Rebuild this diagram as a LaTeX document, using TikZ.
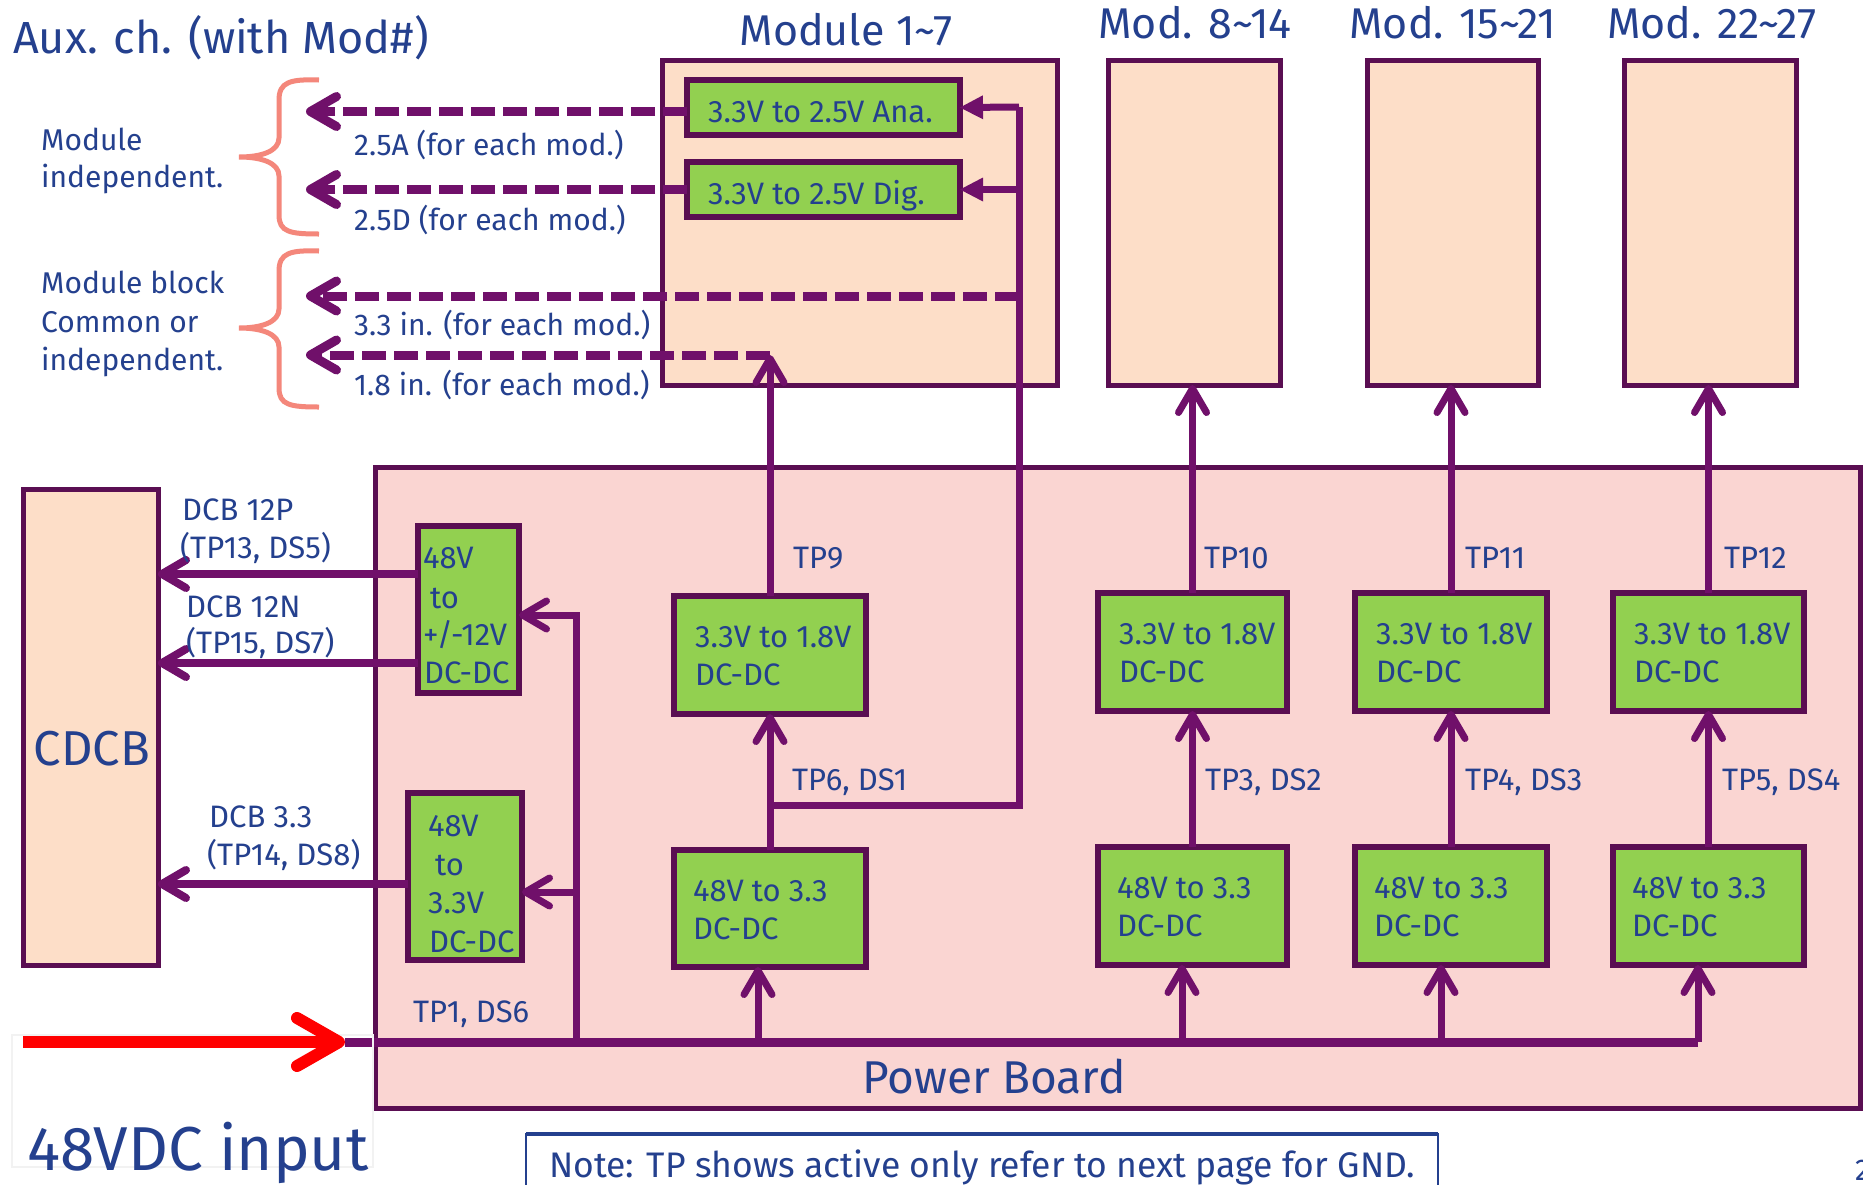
\documentclass[tikz,border=0pt]{standalone}
\usepackage{fontspec}
\setmainfont{Fira Sans}
\usetikzlibrary{arrows.meta,fit}
\definecolor{bdr}{RGB}{90,14,82}
\definecolor{lin}{RGB}{112,16,106}
\definecolor{grn}{HTML}{92D050}
\definecolor{peach}{RGB}{253,222,200}
\definecolor{pinkbg}{RGB}{250,213,210}
\definecolor{tblue}{RGB}{36,64,142}
\definecolor{salm}{RGB}{244,135,123}
\newcommand\fsz[1]{\fontsize{#1}{#1}\selectfont}
\begin{document}
\begin{tikzpicture}[x=1pt,y=-1pt,
  txt/.style={text=tblue, inner sep=0pt, anchor=base west},
  ctxt/.style={text=tblue, inner sep=0pt, anchor=base},
  gbox/.style={draw=bdr, fill=grn, line width=6pt, inner sep=0pt, outer sep=0pt},
  mbox/.style={draw=bdr, fill=peach, line width=5pt, inner sep=0pt, outer sep=0pt},
  wire/.style={draw=lin, line width=7pt},
  arr/.style={wire, -{Straight Barb[length=24pt,width=28pt,round]}},
  tri/.style={wire, -{Triangle[length=23pt,width=24pt,line width=0pt]}},
  darr/.style={draw=lin, line width=9pt, dash pattern=on 24pt off 8pt, -{Straight Barb[length=26pt,width=30pt,round]}},
  brace/.style={draw=salm, line width=5pt},
  fb/.style={font=\fsz{31}}, fn/.style={font=\fsz{30}}]
\useasboundingbox (0,0) rectangle (1863,1184);
\fill[white] (0,0) rectangle (1863,1184);

% ---------- boards ----------
\node[fit={(375,467) (1860,1108)}, draw=bdr, fill=pinkbg, line width=5pt, inner sep=0pt, outer sep=0pt] (pb) {};
\node[mbox, fit={(662,60) (1057,385)}] (m1) {};
\node[mbox, fit={(1108,60) (1280,385)}] (m2) {};
\node[mbox, fit={(1367,60) (1538,385)}] (m3) {};
\node[mbox, fit={(1624,60) (1796,385)}] (m4) {};
\node[mbox, fit={(23,489) (158,965)}] (cdcb) {};

% ---------- titles ----------
\node[txt, font=\fsz{45}] (title) at (13,53) {Aux. ch. (with Mod\#)};
\node[ctxt, font=\fsz{43}] (lm1) at (846,45) {Module 1\textasciitilde 7};
\node[ctxt, font=\fsz{43}] (lm2) at (1195,38) {Mod. 8\textasciitilde 14};
\node[ctxt, font=\fsz{43}] (lm3) at (1453,38) {Mod. 15\textasciitilde 21};
\node[ctxt, font=\fsz{43}] (lm4) at (1712,38) {Mod. 22\textasciitilde 27};
\node[ctxt, font=\fsz{49}] (lcd) at (92,765) {CDCB};
\node[ctxt, font=\fsz{46}] (lpb) at (994,1093) {Power Board};

% ---------- braces and left notes ----------
\draw[brace] (319,80) .. controls (290,79) and (279,82) .. (279,100) -- (279,138)
  .. controls (279,151) and (262,157) .. (239,157) .. controls (262,157) and (279,163) .. (279,176)
  -- (279,215) .. controls (279,232) and (290,234) .. (319,234);
\draw[brace] (319,251) .. controls (290,250) and (279,253) .. (279,271) -- (279,309)
  .. controls (279,322) and (262,328) .. (239,328) .. controls (262,328) and (279,334) .. (279,347)
  -- (279,388) .. controls (279,405) and (290,407) .. (319,407);
\node[txt, fn] (n1) at (41,150) {Module};
\node[txt, fn] (n2) at (41,187) {independent.};
\node[txt, fn] (n3) at (41,293) {Module block};
\node[txt, fn] (n4) at (41,332) {Common or};
\node[txt, fn] (n5) at (41,370) {independent.};

% ---------- green boxes ----------
\node[gbox, fit={(687,80) (960,135)}] (ana) {};
\node[gbox, fit={(687,162) (960,217)}] (dig) {};
\node[txt, fb] at (708,122) {3.3V to 2.5V Ana.};
\node[txt, fb] at (708,204) {3.3V to 2.5V Dig.};

\node[gbox, fit={(418,526) (519,693)}] (pm) {};
\node[gbox, fit={(408,793) (522,960)}] (p3) {};
\node[txt, fb] at (423,568) {48V};
\node[txt, fb] at (430,608) {to};
\node[txt, fb] at (423,645) {+/-12V};
\node[txt, fb] at (424,683) {DC-DC};
\node[txt, fb] at (428,836) {48V};
\node[txt, fb] at (435,875) {to};
\node[txt, fb] at (428,913) {3.3V};
\node[txt, fb] at (429,952) {DC-DC};

\node[gbox, fit={(674,596) (866,714)}] (a1) {};
\node[gbox, fit={(674,850) (866,967)}] (d1) {};
\node[gbox, fit={(1098,593) (1287,711)}] (a2) {};
\node[gbox, fit={(1098,847) (1287,965)}] (d2) {};
\node[gbox, fit={(1355,593) (1547,711)}] (a3) {};
\node[gbox, fit={(1355,847) (1547,965)}] (d3) {};
\node[gbox, fit={(1613,593) (1804,711)}] (a4) {};
\node[gbox, fit={(1613,847) (1804,965)}] (d4) {};
\foreach \b in {a1,a2,a3,a4}{
  \node[txt, fb] at ([shift={(21,51)}]\b.north west) {3.3V to 1.8V};
  \node[txt, fb] at ([shift={(21,89)}]\b.north west) {DC-DC};}
\foreach \b in {d1,d2,d3,d4}{
  \node[txt, fb] at ([shift={(19,51)}]\b.north west) {48V to 3.3};
  \node[txt, fb] at ([shift={(19,89)}]\b.north west) {DC-DC};}

% ---------- coordinates ----------
\coordinate (eL) at (306,0);
\coordinate (c18) at (770,355);
\coordinate (k1) at (1019,107);
\coordinate (k33) at (1019,296);
\coordinate (j1) at (770,805);
\coordinate (busL) at (345,1042);
\coordinate (bv) at (576,1042);
\coordinate (t1) at (758,1042);
\coordinate (t2) at (1182,1042);
\coordinate (t3) at (1441,1042);
\coordinate (t4) at (1698,1042);
\coordinate (redS) at (23,1042);
\coordinate (anaw) at ([yshift=-4pt]ana.west);

% ---------- connectors ----------
\draw[darr] (anaw) -- (anaw -| eL);
\draw[darr] (dig.west) -- (dig.west -| eL);
\draw[darr] (k33) -- (k33 -| eL);
\draw[darr] (c18) -- (c18 -| eL);
\node[txt, fn] at (354,155) {2.5A (for each mod.)};
\node[txt, fn] at (354,230) {2.5D (for each mod.)};
\node[txt, fn] at (354,335) {3.3 in. (for each mod.)};
\node[txt, fn] at (354,395) {1.8 in. (for each mod.)};

\draw[wire] (j1) -| (k1);
\draw[tri] (k1) -- (ana.east);
\draw[tri] (dig.east -| k1) -- (dig.east);

\draw[arr] (d1.north) -- (a1.south);
\draw[arr] (a1.north) -- (c18);
\foreach \i in {2,3,4}{
  \draw[arr] (d\i.north) -- (a\i.south);
  \draw[arr] (a\i.north) -- (a\i.north |- m\i.south);}
\foreach \i in {1,2,3,4}{
  \draw[arr] (t\i) -- (t\i |- d\i.south);}

\draw[draw=lin, line width=9pt] (busL) -- (t4);
\draw[arr] (bv) |- (pm.east |- 0,615);
\draw[arr] (bv |- 0,892) -- (p3.east |- 0,892);

\draw[arr, line width=8pt] (pm.west |- 0,574) -- (cdcb.east |- 0,574);
\draw[arr, line width=8pt] (pm.west |- 0,663) -- (cdcb.east |- 0,663);
\draw[arr, line width=8pt] (p3.west |- 0,884) -- (cdcb.east |- 0,884);
\node[txt, fb] at (182,520) {DCB 12P};
\node[txt, fb] at (180,558) {(TP13, DS5)};
\node[txt, fb] at (186,617) {DCB 12N};
\node[txt, fb] at (186,653) {(TP15, DS7)};
\node[txt, fb] at (209,827) {DCB 3.3};
\node[txt, fb] at (207,865) {(TP14, DS8)};

\node[txt, fb] at (793,568) {TP9};
\node[txt, fb] at (1204,568) {TP10};
\node[txt, fb] at (1465,568) {TP11};
\node[txt, fb] at (1724,568) {TP12};
\node[txt, fb] at (792,790) {TP6, DS1};
\node[txt, fb] at (1205,790) {TP3, DS2};
\node[txt, fb] at (1465,790) {TP4, DS3};
\node[txt, fb] at (1722,790) {TP5, DS4};
\node[txt, fb] at (413,1022) {TP1, DS6};

% ---------- input ----------
\draw[black!5, line width=2pt] (12,1035) rectangle (373,1167);
\draw[red, line width=12pt, -{Straight Barb[length=42pt,width=48pt,round]}] (redS) -- (busL);
\node[txt, font=\fsz{62}] at (27,1170) {48VDC input};

% ---------- note ----------
\draw[tblue, line width=2pt, fill=white] (526,1200) -- (526,1134) -- (1438,1134) -- (1438,1200);
\draw[tblue, line width=3.5pt] (526,1134) -- (1438,1134);
\node[ctxt, font=\fsz{35.5}] at (982,1177) {Note: TP shows active only refer to next page for GND.};
\node[txt, font=\fsz{30}] at (1855,1180) {2};
\end{tikzpicture}
\end{document}
